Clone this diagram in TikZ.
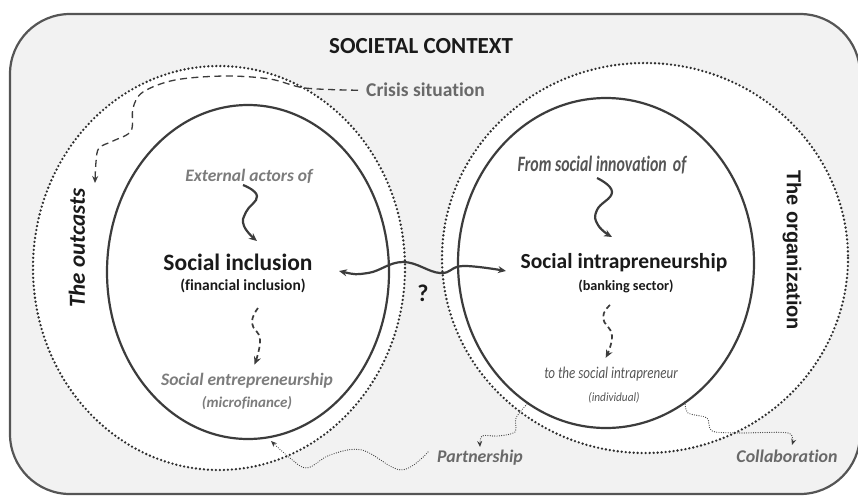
\documentclass[tikz,border=0pt]{standalone}
\usepackage{fontspec}
\setmainfont{Carlito}[Ligatures={NoCommon}]
\newfontfamily\arialf{Liberation Sans}
\usetikzlibrary{arrows.meta}
\definecolor{framec}{HTML}{555555}
\definecolor{bgc}{HTML}{F2F2F2}
\definecolor{txtgray}{HTML}{7C7C7C}
\definecolor{midgray}{HTML}{555555}
\definecolor{inkc}{HTML}{3C3C3C}
\definecolor{dotc}{HTML}{2E2E2E}
\definecolor{darktxt}{HTML}{1A1A1A}
\begin{document}
\begin{tikzpicture}[x=1pt,y=-1pt,
  dotring/.style={draw=dotc, line width=2.6pt, line cap=round, dash pattern=on 0pt off 4pt, fill=white},
  innerring/.style={draw=inkc, line width=2.2pt},
  waveline/.style={draw=inkc, line width=2.2pt, -{Stealth[length=8pt,width=7pt]}},
  twoway/.style={draw=inkc, line width=2.2pt, {Stealth[length=8pt,width=7pt]}-{Stealth[length=8pt,width=7pt]}},
  dashwave/.style={draw=inkc, line width=1.7pt, dash pattern=on 5pt off 3.5pt, -{Stealth[length=8pt,width=7pt,sep]}},
  crisisline/.style={draw=inkc, line width=1.3pt, dash pattern=on 7pt off 4.5pt, -{Stealth[length=7pt,width=6pt,open]}},
  dotlink/.style={draw=inkc, line width=1.2pt, line cap=round, dash pattern=on 0pt off 2.3pt, -{Stealth[length=6pt,width=5pt]}},
  lbl/.style={inner sep=0pt, anchor=base},
]
\useasboundingbox (0,0) rectangle (858,496);
\clip (0,0) rectangle (858,496);
% frame
\draw[draw=framec, fill=bgc, line width=2.2pt, rounded corners=60pt] (10,14) rectangle (860,494);
% rings
\draw[dotring] (219,268) ellipse [x radius=186, y radius=202];
\draw[dotring] (645,258) ellipse [x radius=203, y radius=195];
\draw[innerring] (248,272) ellipse [x radius=141, y radius=167];
\draw[innerring] (606,263) ellipse [x radius=148, y radius=165];

% texts
\node[lbl, text=darktxt, font=\bfseries\fontsize{23}{23}\selectfont] (ctx) at (421,53) {SOCIETAL CONTEXT};
\node[lbl, text=txtgray!85!black, font=\bfseries\fontsize{19.5}{20}\selectfont, anchor=base west] (crisis) at (366,96) {Crisis situation};
\node[text=darktxt, font=\bfseries\itshape\fontsize{23}{23}\selectfont, rotate=90, inner sep=0pt] (outc) at (77,248) {The outcasts};
\node[text=darktxt, font=\arialf\bfseries\fontsize{20}{20}\selectfont, rotate=-90, inner sep=0pt] (orgn) at (792,250) {The organization};

\node[lbl, text=txtgray, font=\bfseries\itshape\fontsize{17.5}{18}\selectfont] (ext) at (249,181) {External actors of};
\node[lbl, text=darktxt, font=\bfseries\fontsize{23.5}{24}\selectfont] (sinc) at (238,270) {Social inclusion};
\node[lbl, text=darktxt, font=\bfseries\fontsize{15.5}{16}\selectfont] (finc) at (243,290) {(financial inclusion)};
\node[lbl, text=txtgray, font=\bfseries\itshape\fontsize{17.5}{18}\selectfont] (sent) at (247,385) {Social entrepreneurship};
\node[lbl, text=txtgray, font=\bfseries\itshape\fontsize{15}{15}\selectfont] (micro) at (247,407) {(microfinance)};

\node[lbl, text=midgray, font=\bfseries\itshape\fontsize{22}{22}\selectfont] (innov) at (602,171) {\scalebox{0.72}[1]{From social innovation\, of}};
\node[lbl, text=darktxt, font=\bfseries\fontsize{21.5}{22}\selectfont] (sintra) at (624,268) {Social intrapreneurship};
\node[lbl, text=darktxt, font=\bfseries\fontsize{14.2}{15}\selectfont] (bank) at (626,290) {(banking sector)};
\node[lbl, text=midgray, font=\itshape\fontsize{16.5}{16}\selectfont] (toint) at (611,378) {\scalebox{0.79}[1]{to the social intrapreneur}};
\node[lbl, text=midgray, font=\itshape\fontsize{12.5}{12}\selectfont] (indiv) at (614,401) {\scalebox{0.9}[1]{(individual)}};

\node[lbl, text=darktxt, font=\bfseries\fontsize{24}{24}\selectfont] (qm) at (423,301) {?};
\node[lbl, text=txtgray!85!black, font=\bfseries\itshape\fontsize{17.8}{18}\selectfont] (partner) at (480,462) {Partnership};
\node[lbl, text=txtgray!85!black, font=\bfseries\itshape\fontsize{17.9}{18}\selectfont] (collab) at (787,462) {Collaboration};

% connector end points
\coordinate (crisisEnd) at (95,183);
\coordinate (extStart) at (243,185);
\coordinate (extEnd) at (257,241);
\coordinate (sincStart) at (258,308);
\coordinate (sincEnd) at (254,366);
\coordinate (leftTip) at (339,271);
\coordinate (rightTip) at (506,271);
\coordinate (innovStart) at (597,178);
\coordinate (innovEnd) at (612,237);
\coordinate (bankStart) at (610,305);
\coordinate (bankEnd) at (605,359);
\coordinate (partStart) at (428,452);
\coordinate (partEnd) at (271,441);
\coordinate (rbStart) at (527,404);
\coordinate (rbEnd) at (480,447);
\coordinate (colStart) at (685,402);
\coordinate (colEnd) at (792,445);

% crisis dashed path
\draw[crisisline] (crisis.west) ++(-8,1) coordinate (crisisStart)
  plot[smooth, tension=0.55] coordinates {(crisisStart) (305,88) (270,79) (225,76) (175,80) (143,92) (133,108) (131,131) (113,141) (99,148) (96,162) (crisisEnd)};

% solid wavy arrows
\draw[waveline] plot[smooth, tension=0.8] coordinates {(extStart) (257,196) (246,212) (244,226) (extEnd)};
\draw[waveline] plot[smooth, tension=0.8] coordinates {(innovStart) (612,192) (597,210) (598,225) (innovEnd)};
% dashed wavy arrows
\draw[dashwave] plot[smooth, tension=0.8] coordinates {(sincStart) (252,323) (260,340) (sincEnd)};
\draw[dashwave] plot[smooth, tension=0.8] coordinates {(bankStart) (603,318) (612,336) (bankEnd)};
% two-way arrow
\draw[twoway] plot[smooth, tension=0.7] coordinates {(leftTip) (368,273) (403,262) (440,273) (463,266) (rightTip)};

% dotted links
\draw[dotlink] plot[smooth, tension=0.6] coordinates {(partStart) (401,470) (362,450) (330,455) (307,468) (290,458) (partEnd)};
\draw[dotlink] plot[smooth, tension=0.5] coordinates {(rbStart) (516,418) (515,432) (498,436) (482,436) (rbEnd)};
\draw[dotlink] plot[smooth, tension=0.5] coordinates {(colStart) (688,413) (707,418) (712,431) (740,433) (788,433) (colEnd)};
\end{tikzpicture}
\end{document}
